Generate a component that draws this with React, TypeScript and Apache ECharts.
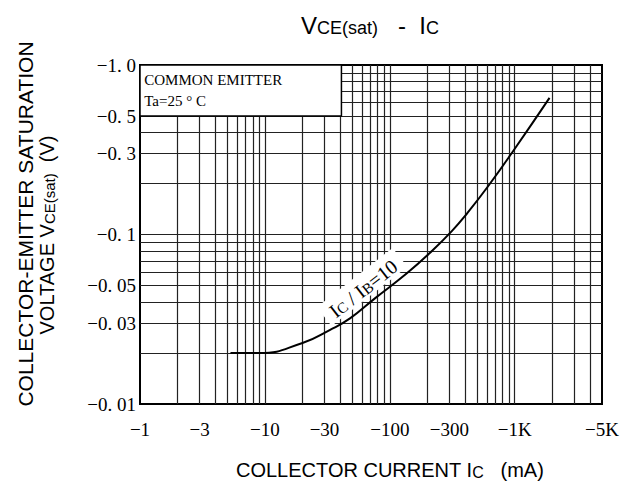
import React, { useEffect, useRef } from 'react';
import * as echarts from 'echarts';

// Curve: IC/IB = 10  (collector current in mA, |VCE(sat)| in V)
const icValues = [5.3, 9, 20, 33, 48, 76, 137, 210, 315, 415, 610, 970, 1900];
const vceValues = [0.02, 0.02, 0.0229, 0.0273, 0.032, 0.042, 0.059, 0.078, 0.105, 0.133, 0.192, 0.31, 0.64];

const xTickValues = [1, 3, 10, 30, 100, 300, 1000, 5000];
const xTickLabels = ['−1', '−3', '−10', '−30', '−100', '−300', '−1K', '−5K'];
const yTickValues = [0.01, 0.03, 0.05, 0.1, 0.3, 0.5, 1];
const yTickLabels = ['−0. 01', '−0. 03', '−0. 05', '−0. 1', '−0. 3', '−0. 5', '−1. 0'];

const xGridValues = [2, 3, 4, 5, 6, 7, 8, 9, 10, 20, 30, 40, 50, 60, 70, 80, 90, 100, 200, 300, 400, 500, 600, 700, 800, 900, 1000, 2000, 3000, 4000];
const yGridValues = [0.02, 0.03, 0.04, 0.05, 0.06, 0.07, 0.08, 0.09, 0.1, 0.2, 0.3, 0.4, 0.5, 0.6, 0.7, 0.8, 0.9];

const boxCorner = [1, 0.5];
const boxEnd = [41, 1];
const curveLabelAt = [60, 0.049];

const SERIF = 'Liberation Serif';
const SANS = 'Liberation Sans';

function lookup(values: number[], labels: string[], v: number) {
  for (let i = 0; i < values.length; i++) {
    if (Math.abs(v - values[i]) / values[i] < 1e-6) return labels[i];
  }
  return '';
}

export default function App() {
  const ref = useRef<HTMLDivElement>(null);
  useEffect(() => {
    if (!ref.current) return;
    const chart = echarts.init(ref.current, undefined, { renderer: 'svg' });
    const option: any = {
      animation: false,
      backgroundColor: '#fff',
      title: {
        left: 301,
        top: 7,
        padding: 0,
        text: '{v|V}{s|CE(sat)}{v|   -  I}{s|C}',
        textStyle: {
          fontWeight: 'normal',
          rich: {
            v: { fontFamily: SANS, fontSize: 24, fontWeight: 'normal', lineHeight: 30, color: '#000', verticalAlign: 'bottom' },
            s: { fontFamily: SANS, fontSize: 18, fontWeight: 'normal', lineHeight: 17, color: '#000', verticalAlign: 'bottom' },
          },
        },
      },
      grid: {
        left: 140,
        right: 37,
        top: 65,
        bottom: 85,
        show: true,
        borderColor: '#000',
        borderWidth: 2,
        backgroundColor: 'rgba(0,0,0,0)',
      },
      xAxis: {
        type: 'log',
        logBase: 10,
        min: 1,
        max: 5000,
        axisLine: { show: false },
        axisTick: { show: false },
        splitLine: { show: false },
        axisLabel: {
          customValues: xTickValues,
          formatter: (v: number) => lookup(xTickValues, xTickLabels, v),
          fontFamily: SERIF,
          fontSize: 19,
          color: '#000',
          margin: 16,
          showMinLabel: true,
          showMaxLabel: true,
        },
      },
      yAxis: {
        type: 'log',
        logBase: 10,
        min: 0.01,
        max: 1,
        axisLine: { show: false },
        axisTick: { show: false },
        splitLine: { show: false },
        axisLabel: {
          customValues: yTickValues,
          formatter: (v: number) => lookup(yTickValues, yTickLabels, v),
          fontFamily: SERIF,
          fontSize: 19,
          color: '#000',
          margin: 4,
          showMinLabel: true,
          showMaxLabel: true,
        },
      },
      graphic: [
        {
          type: 'text',
          x: 25,
          y: 224,
          rotation: Math.PI / 2,
          style: {
            text: 'COLLECTOR-EMITTER SATURATION',
            fontFamily: SANS,
            fontSize: 21,
            fill: '#000',
            align: 'center',
            verticalAlign: 'middle',
          },
        },
        {
          type: 'text',
          x: 45,
          y: 235,
          rotation: Math.PI / 2,
          style: {
            text: '{v|VOLTAGE V}{s|CE(sat)}{v|  (V)}',
            fill: '#000',
            align: 'center',
            verticalAlign: 'middle',
            rich: {
              v: { fontFamily: SANS, fontSize: 20, lineHeight: 24, verticalAlign: 'bottom', fill: '#000' },
              s: { fontFamily: SANS, fontSize: 15, lineHeight: 14, verticalAlign: 'bottom', fill: '#000' },
            },
          },
        },
        {
          type: 'text',
          x: 236,
          y: 468,
          style: {
            text: '{v|COLLECTOR CURRENT I}{s|C}{v|   (mA)}',
            fill: '#000',
            align: 'left',
            verticalAlign: 'middle',
            rich: {
              v: { fontFamily: SANS, fontSize: 20, lineHeight: 24, verticalAlign: 'bottom', fill: '#000' },
              s: { fontFamily: SANS, fontSize: 16, lineHeight: 14, verticalAlign: 'bottom', fill: '#000' },
            },
          },
        },
      ],
      series: [
        {
          type: 'line',
          data: [],
          z: 1,
          silent: true,
          markLine: {
            silent: true,
            z: 2,
            symbol: ['none', 'none'],
            label: { show: false },
            lineStyle: { color: '#222', width: 1.2, type: 'solid' },
            emphasis: { disabled: true },
            data: [
              ...xGridValues.map((v) => ({ xAxis: v })),
              ...yGridValues.map((v) => ({ yAxis: v })),
            ],
          },
        },
        {
          type: 'line',
          data: icValues.map((x, i) => [x, vceValues[i]]),
          smooth: 0.5,
          symbol: 'none',
          z: 6,
          lineStyle: { color: '#000', width: 2 },
          markArea: {
            silent: true,
            z: 8,
            itemStyle: { color: '#fff', borderColor: '#000', borderWidth: 1.5 },
            label: {
              show: true,
              position: 'insideTopLeft',
              distance: 5,
              formatter: 'COMMON EMITTER\nTa=25 ° C',
              fontFamily: SERIF,
              fontSize: 15,
              lineHeight: 21,
              color: '#000',
            },
            data: [[{ xAxis: boxCorner[0], yAxis: boxCorner[1] }, { xAxis: boxEnd[0], yAxis: boxEnd[1] }]],
          },
          markPoint: {
            silent: true,
            z: 9,
            symbol: 'rect',
            symbolSize: 1,
            itemStyle: { color: 'rgba(0,0,0,0)' },
            label: {
              show: true,
              position: 'inside',
              rotate: 38,
              backgroundColor: '#fff',
              padding: [2, 8, 0, 8],
              formatter: '{i|I}{s|C}{i| / I}{s|B}{i|=10}',
              rich: {
                i: { fontFamily: SERIF, fontSize: 20, lineHeight: 22, color: '#000', verticalAlign: 'bottom' },
                s: { fontFamily: SERIF, fontSize: 15, lineHeight: 15, color: '#000', verticalAlign: 'bottom' },
              },
            },
            data: [{ coord: curveLabelAt }],
          },
        },
      ],
    };
    chart.setOption(option);
    return () => chart.dispose();
  }, []);
  return (
    <div
      ref={ref}
      style={{ position: 'fixed', left: 0, top: 0, width: 639, height: 489 }}
    />
  );
}
